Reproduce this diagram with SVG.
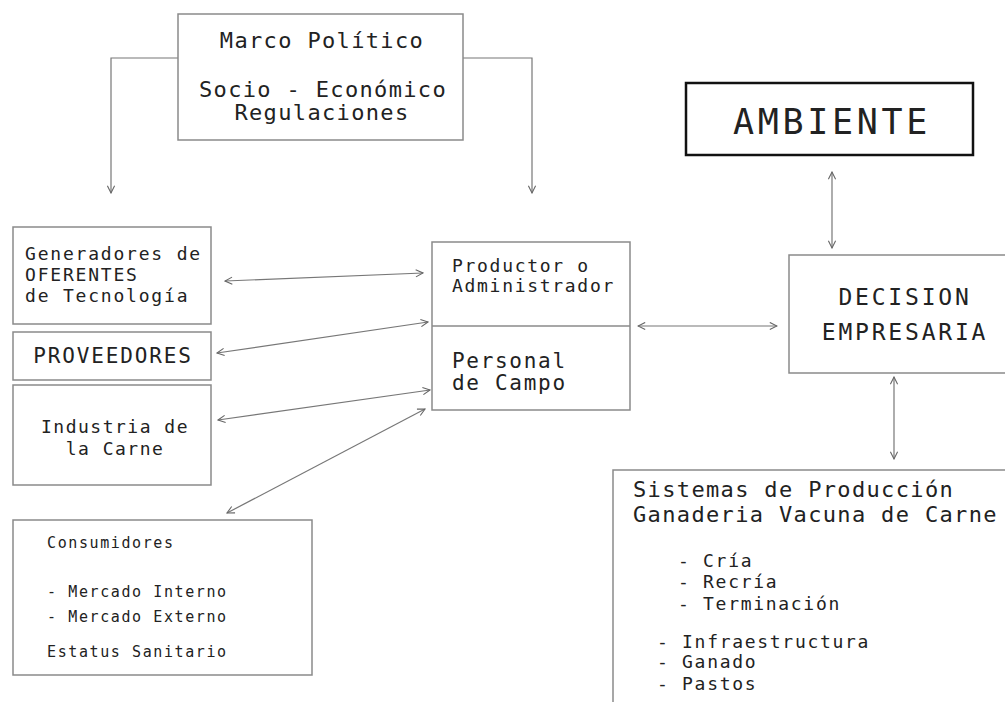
<svg xmlns="http://www.w3.org/2000/svg" width="1005" height="702" viewBox="0 0 1005 702">
<defs>
<marker id="ah" viewBox="0 0 10 10" refX="9" refY="5" markerWidth="9" markerHeight="9" markerUnits="userSpaceOnUse" orient="auto-start-reverse">
<path d="M1,1 L9,5 L1,9" fill="none" stroke="#666" stroke-width="1.2"/>
</marker>
</defs>
<style>
text{font-family:"DejaVu Sans Mono","Liberation Mono",monospace;fill:#222}
.box{fill:#fff;stroke:#8a8a8a;stroke-width:1.5}
.con{fill:none;stroke:#777;stroke-width:1.2}
.t20{font-size:22px;letter-spacing:1.35px}
.t16{font-size:18px;letter-spacing:1.8px}
.t14{font-size:15px;letter-spacing:1.6px}
.t17{font-size:18px;letter-spacing:1.7px}
.mid{text-anchor:middle}
</style>
<rect width="1005" height="702" fill="#fff"/>
<g id="connectors">
<polyline class="con" points="178,58 111,58 111,193" marker-end="url(#ah)"/>
<polyline class="con" points="463,58 532,58 532,193" marker-end="url(#ah)"/>
<line class="con" x1="225" y1="281" x2="423" y2="273" marker-start="url(#ah)" marker-end="url(#ah)"/>
<line class="con" x1="217" y1="353" x2="428" y2="322" marker-start="url(#ah)" marker-end="url(#ah)"/>
<line class="con" x1="218" y1="420" x2="430" y2="390" marker-start="url(#ah)" marker-end="url(#ah)"/>
<line class="con" x1="425" y1="409" x2="227" y2="513" marker-start="url(#ah)" marker-end="url(#ah)"/>
<line class="con" x1="638" y1="326" x2="777" y2="326" marker-start="url(#ah)" marker-end="url(#ah)"/>
<line class="con" x1="832" y1="172" x2="832" y2="248" marker-start="url(#ah)" marker-end="url(#ah)"/>
<line class="con" x1="894" y1="377" x2="894" y2="459" marker-start="url(#ah)" marker-end="url(#ah)"/>
</g>
<g id="marco">
<rect class="box" x="178" y="14" width="285" height="126"/>
<text class="t20 mid" x="322" y="48">Marco Político</text>
<text class="t20 mid" x="323" y="97">Socio - Económico</text>
<text class="t20 mid" x="322" y="120">Regulaciones</text>
</g>
<g id="generadores">
<rect class="box" x="13" y="227" width="198" height="97"/>
<text class="t16" x="25" y="260">Generadores de</text>
<text class="t16" x="25" y="281">OFERENTES</text>
<text class="t16" x="25" y="302">de Tecnología</text>
</g>
<g id="proveedores">
<rect class="box" x="13" y="332" width="198" height="48"/>
<text class="mid" x="113" y="363" style="font-size:21px;letter-spacing:1.85px">PROVEEDORES</text>
</g>
<g id="industria">
<rect class="box" x="13" y="385" width="198" height="100"/>
<text class="t16 mid" x="115" y="433" style="letter-spacing:1.5px">Industria de</text>
<text class="t16 mid" x="115" y="455" style="letter-spacing:1.5px">la Carne</text>
</g>
<g id="consumidores">
<rect class="box" x="13" y="520" width="299" height="155"/>
<text class="t14" x="47" y="548">Consumidores</text>
<text class="t14" x="47" y="597">- Mercado Interno</text>
<text class="t14" x="47" y="622">- Mercado Externo</text>
<text class="t14" x="47" y="657">Estatus Sanitario</text>
</g>
<g id="productor">
<rect class="box" x="432" y="242" width="198" height="168"/>
<line x1="432" y1="326" x2="630" y2="326" stroke="#8a8a8a" stroke-width="1.5"/>
<text class="t17" x="452" y="272">Productor o</text>
<text class="t17" x="452" y="292">Administrador</text>
<text x="452" y="368" style="font-size:21px;letter-spacing:1.7px">Personal</text>
<text x="452" y="390" style="font-size:21px;letter-spacing:1.7px">de Campo</text>
</g>
<g id="ambiente">
<rect x="686" y="83" width="287" height="72" fill="#fff" stroke="#111" stroke-width="2.5"/>
<text class="mid" x="832" y="134" style="font-size:35px;letter-spacing:3.7px">AMBIENTE</text>
</g>
<g id="decision">
<rect class="box" x="789" y="255" width="230" height="118"/>
<text class="mid" x="905" y="305" style="font-size:23px;letter-spacing:2.8px">DECISION</text>
<text class="mid" x="905" y="340" style="font-size:23px;letter-spacing:2.8px">EMPRESARIA</text>
</g>
<g id="sistemas">
<rect class="box" x="613" y="470" width="410" height="250"/>
<text class="t20" x="633" y="497">Sistemas de Producción</text>
<text class="t20" x="633" y="522">Ganaderia Vacuna de Carne</text>
<text class="t17" x="678" y="567">-  Cría</text>
<text class="t17" x="678" y="588">-  Recría</text>
<text class="t17" x="678" y="610">-  Terminación</text>
<text class="t17" x="657" y="648">- Infraestructura</text>
<text class="t17" x="657" y="668">- Ganado</text>
<text class="t17" x="657" y="690">- Pastos</text>
</g>
</svg>
